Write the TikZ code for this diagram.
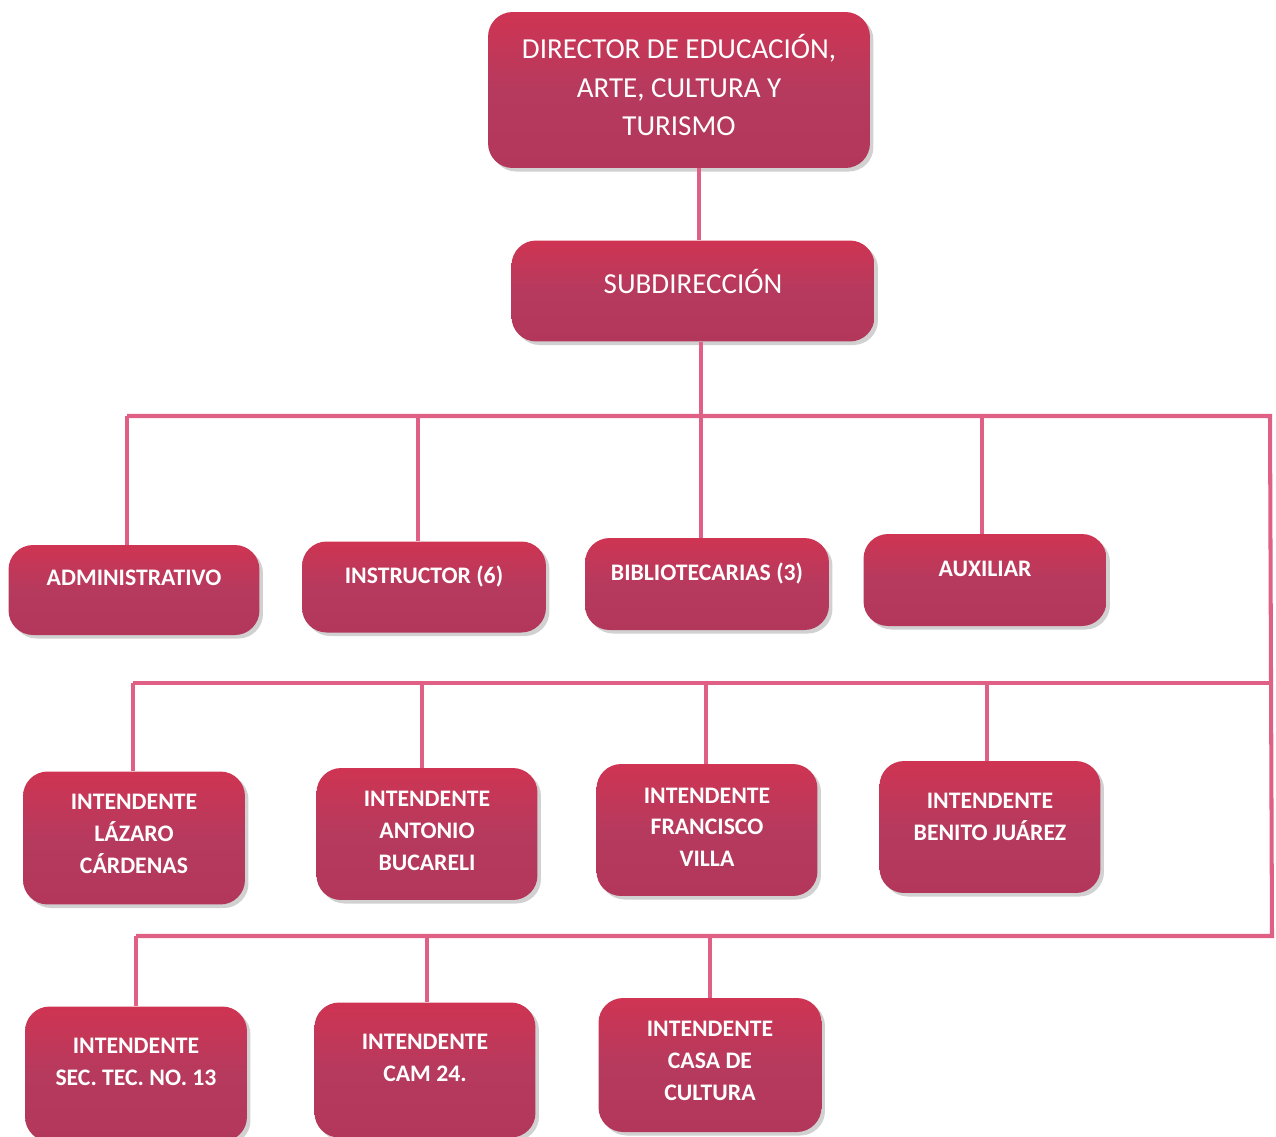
\documentclass[tikz,border=0pt]{standalone}
\usepackage{fontspec}
\setmainfont{Carlito}
\usetikzlibrary{shadows}
\definecolor{boxtop}{HTML}{CF3452}
\definecolor{boxmid}{HTML}{B63A5E}
\definecolor{boxbot}{HTML}{B2375B}
\definecolor{linepink}{HTML}{E05F84}
\tikzset{
  orgbox/.style={rounded corners=14pt, top color=boxtop, bottom color=boxbot, middle color=boxmid,
     draw=none, inner sep=0pt,
     drop shadow={opacity=0.3, shadow xshift=2pt, shadow yshift=-2pt, fill=black!60}},
  bigtxt/.style={text=white, align=center, inner sep=0pt, font=\fontsize{16.5}{22}\selectfont},
  smalltxt/.style={text=white, align=center, inner sep=0pt, font=\fontsize{13.5}{18}\selectfont\bfseries},
  conn/.style={draw=linepink, line width=2.3pt}
}
\begin{document}
\begin{tikzpicture}[x=0.02cm, y=-0.02cm]
\useasboundingbox (0,0) rectangle (1276,1137);
\clip (0,0) rectangle (1276,1137);
% boxes
\node[orgbox, minimum width=7.64cm, minimum height=3.12cm] (dir) at (679,90) {};
\node[bigtxt] (dirt) at (679,85) {DIRECTOR DE EDUCACIÓN,\\ARTE, CULTURA Y\\TURISMO};
\node[orgbox, minimum width=7.26cm, minimum height=2.02cm] (sub) at (693,291) {};
\node[bigtxt] (subt) at (693,281) {SUBDIRECCIÓN};
% row 1
\node[orgbox, minimum width=5.02cm, minimum height=1.8cm] (adm) at (134,590) {};
\node[smalltxt] (admt) at (134,578) {ADMINISTRATIVO};
\node[orgbox, minimum width=4.88cm, minimum height=1.82cm] (ins) at (424,587) {};
\node[smalltxt] (inst) at (424,576) {INSTRUCTOR (6)};
\node[orgbox, minimum width=4.88cm, minimum height=1.84cm] (bib) at (707,584) {};
\node[smalltxt] (bibt) at (707,573) {BIBLIOTECARIAS (3)};
\node[orgbox, minimum width=4.86cm, minimum height=1.84cm] (aux) at (985,580) {};
\node[smalltxt] (auxt) at (985,569) {AUXILIAR};
% row 2
\node[orgbox, minimum width=4.44cm, minimum height=2.66cm] (laz) at (134,838) {};
\node[smalltxt] (lazt) at (134,834) {INTENDENTE\\LÁZARO\\CÁRDENAS};
\node[orgbox, minimum width=4.42cm, minimum height=2.64cm] (ant) at (427,834) {};
\node[smalltxt] (antt) at (427,831) {INTENDENTE\\ANTONIO\\BUCARELI};
\node[orgbox, minimum width=4.42cm, minimum height=2.64cm] (fra) at (707,830) {};
\node[smalltxt] (frat) at (707,827) {INTENDENTE\\FRANCISCO\\VILLA};
\node[orgbox, minimum width=4.42cm, minimum height=2.64cm] (ben) at (990,827) {};
\node[smalltxt] (bent) at (990,817) {INTENDENTE\\BENITO JUÁREZ};
% row 3
\node[orgbox, minimum width=4.44cm, minimum height=2.7cm] (sec) at (136,1074) {};
\node[smalltxt] (sect) at (136,1062) {INTENDENTE\\SEC. TEC. NO. 13};
\node[orgbox, minimum width=4.42cm, minimum height=2.7cm] (cam) at (425,1070) {};
\node[smalltxt] (camt) at (425,1058) {INTENDENTE\\CAM 24.};
\node[orgbox, minimum width=4.46cm, minimum height=2.68cm] (cas) at (710,1065) {};
\node[smalltxt] (cast) at (710,1061) {INTENDENTE\\CASA DE\\CULTURA};
% bus coordinates
\coordinate (b1s) at (701,416);
\coordinate (b1L) at (127,416);
\coordinate (b1R) at (1270,416);
\coordinate (b1a) at (418,416);
\coordinate (b1c) at (982,416);
\coordinate (b2L) at (133,683);
\coordinate (b2R) at (1270,683);
\coordinate (b2b) at (422,683);
\coordinate (b2c) at (706,683);
\coordinate (b2d) at (987,683);
\coordinate (b3L) at (136,936);
\coordinate (b3R) at (1272,936);
\coordinate (b3b) at (427,936);
\coordinate (b3c) at (710,936);
% connectors
\draw[conn] (dir.south -| 699,0) -- (sub.north -| 699,0);
\draw[conn] (sub.south -| b1s) -- (b1s);
\draw[conn] (b1L) -- (b1R) -- (b3R) -- (b3L);
\draw[conn] (b2L) -- (b2R);
\draw[conn] (b1L) -- (b1L |- adm.north);
\draw[conn] (b1a) -- (b1a |- ins.north);
\draw[conn] (b1s) -- (b1s |- bib.north);
\draw[conn] (b1c) -- (b1c |- aux.north);
\draw[conn] (b2L) -- (b2L |- laz.north);
\draw[conn] (b2b) -- (b2b |- ant.north);
\draw[conn] (b2c) -- (b2c |- fra.north);
\draw[conn] (b2d) -- (b2d |- ben.north);
\draw[conn] (b3L) -- (b3L |- sec.north);
\draw[conn] (b3b) -- (b3b |- cam.north);
\draw[conn] (b3c) -- (b3c |- cas.north);
\end{tikzpicture}
\end{document}
